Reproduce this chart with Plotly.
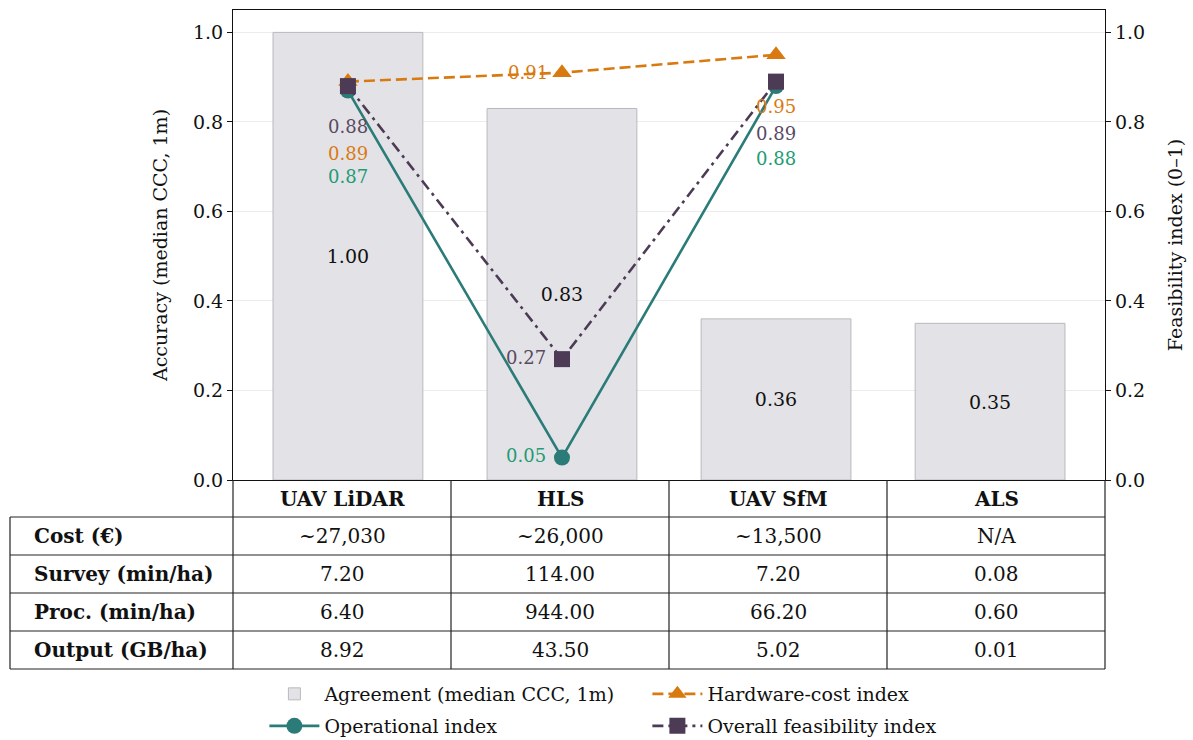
import plotly.graph_objects as go

# ---- data -------------------------------------------------------------
methods = ["UAV LiDAR", "HLS", "UAV SfM", "ALS"]
agreement = [1.00, 0.83, 0.36, 0.35]          # median CCC at 1 m
hardware_cost = [0.89, 0.91, 0.95, None]      # hardware-cost index
operational = [0.87, 0.05, 0.88, None]        # operational index
overall = [0.88, 0.27, 0.89, None]            # overall feasibility index

row_labels = ["Cost (€)", "Survey (min/ha)", "Proc. (min/ha)", "Output (GB/ha)"]
cost = ["~27,030", "~26,000", "~13,500", "N/A"]
survey = [7.20, 114.00, 7.20, 0.08]
proc = [6.40, 944.00, 66.20, 0.60]
output = [8.92, 43.50, 5.02, 0.01]

# ---- style ------------------------------------------------------------
FONT = "DejaVu Serif"
C_BAR = "#e3e3e7"
C_BAR_EDGE = "#b9b9bd"
C_OPER = "#2b7c78"
C_OPER_TXT = "#239b74"
C_HW = "#d97a10"
C_ALL = "#4d3b56"
C_ALL_TXT = "#5a4a62"

x = list(range(len(methods)))

fig = go.Figure()

# bars and the first legend row
fig.add_trace(go.Bar(
    x=x, y=agreement, width=0.70,
    marker=dict(color=C_BAR, line=dict(color=C_BAR_EDGE, width=1)),
    text=[f"{v:.2f}" for v in agreement],
    textposition="inside", insidetextanchor="middle",
    textfont=dict(family=FONT, size=19, color="#111111"),
    name="Agreement (median CCC, 1m)", yaxis="y", legend="legend",
))

fig.add_trace(go.Scatter(
    x=x, y=hardware_cost, mode="lines+markers", yaxis="y2",
    line=dict(color=C_HW, width=2.6, dash="11px,5px"),
    marker=dict(symbol="triangle-up", size=17, color=C_HW),
    name="Hardware-cost index", legend="legend",
))
fig.add_trace(go.Scatter(
    x=x, y=operational, mode="lines+markers", yaxis="y2",
    line=dict(color=C_OPER, width=2.6),
    marker=dict(symbol="circle", size=16, color=C_OPER),
    name="Operational index", legend="legend2",
))
fig.add_trace(go.Scatter(
    x=x, y=overall, mode="lines+markers", yaxis="y2",
    line=dict(color=C_ALL, width=2.6, dash="11px,5px,3px,5px"),
    marker=dict(symbol="square", size=16, color=C_ALL),
    name="Overall feasibility index", legend="legend2",
))

# value labels next to the index markers: (xshift, yshift, xanchor) per method
label_specs = [
    (hardware_cost, C_HW, [(0, -72, "center"), (-12, 0, "right"), (0, -52, "center")]),
    (overall, C_ALL_TXT, [(0, -40, "center"), (-14, 2, "right"), (0, -52, "center")]),
    (operational, C_OPER_TXT, [(0, -86, "center"), (-14, 2, "right"), (0, -72, "center")]),
]
annotations = []
for series, color, offs in label_specs:
    for i, v in enumerate(series):
        if v is None:
            continue
        dx, dy, anchor = offs[i]
        annotations.append(dict(
            x=i, y=v, xref="x", yref="y2", text=f"{v:.2f}", showarrow=False,
            xanchor=anchor, yanchor="middle", xshift=dx, yshift=dy,
            font=dict(family=FONT, size=18, color=color),
        ))

# ---- table beneath the plot (paper coordinates) -----------------------
PLOT_H = 740 - 10 - 260
PLOT_W = 1193 - 233 - 88
row_px = [0, 37, 75, 113, 151, 189]
row_y = [-p / PLOT_H for p in row_px]
col_x = [0, 0.25, 0.5, 0.75, 1.0]
left_x = -223 / PLOT_W

shapes = []
line_style = dict(color="#222222", width=1.2)
for yy in row_y[1:]:
    shapes.append(dict(type="line", xref="paper", yref="paper",
                       x0=left_x, x1=1.0, y0=yy, y1=yy, line=line_style))
for cx in col_x:
    shapes.append(dict(type="line", xref="paper", yref="paper",
                       x0=cx, x1=cx, y0=row_y[0], y1=row_y[-1], line=line_style))
shapes.append(dict(type="line", xref="paper", yref="paper",
                   x0=left_x, x1=left_x, y0=row_y[1], y1=row_y[-1], line=line_style))


def cell_mid(r):
    return (row_y[r] + row_y[r + 1]) / 2


TABLE_FONT = dict(family=FONT, size=20, color="#111111")
for i, m in enumerate(methods):
    annotations.append(dict(
        x=(col_x[i] + col_x[i + 1]) / 2, y=cell_mid(0), xref="paper", yref="paper",
        text=f"<b>{m}</b>", showarrow=False, xanchor="center", yanchor="middle",
        font=TABLE_FONT,
    ))

table_rows = [
    cost,
    [f"{v:.2f}" for v in survey],
    [f"{v:.2f}" for v in proc],
    [f"{v:.2f}" for v in output],
]
for r, (lab, vals) in enumerate(zip(row_labels, table_rows), start=1):
    annotations.append(dict(
        x=-201 / PLOT_W, y=cell_mid(r), xref="paper", yref="paper",
        text=f"<b>{lab}</b>", showarrow=False, xanchor="left", yanchor="middle",
        font=TABLE_FONT,
    ))
    for i, v in enumerate(vals):
        annotations.append(dict(
            x=(col_x[i] + col_x[i + 1]) / 2, y=cell_mid(r), xref="paper", yref="paper",
            text=v, showarrow=False, xanchor="center", yanchor="middle",
            font=TABLE_FONT,
        ))

axis_font = dict(family=FONT, size=19, color="#111111")
legend_common = dict(orientation="h", x=0.036, xanchor="left", yanchor="top",
                     entrywidth=318, entrywidthmode="pixels", itemwidth=50,
                     font=dict(family=FONT, size=19, color="#111111"),
                     bgcolor="rgba(0,0,0,0)")
fig.update_layout(
    width=1193, height=740,
    margin=dict(l=233, r=88, t=10, b=260, autoexpand=False),
    paper_bgcolor="white", plot_bgcolor="white",
    font=dict(family=FONT, size=18, color="#111111"),
    bargap=0.3,
    xaxis=dict(range=[-0.537, 3.537], showticklabels=False, ticks="",
               showgrid=False, zeroline=False, showline=True,
               linecolor="#111111", linewidth=1.2, mirror=True),
    yaxis=dict(range=[0, 1.05], tickvals=[0, 0.2, 0.4, 0.6, 0.8, 1.0],
               tickformat=".1f", ticks="outside", ticklen=5, tickcolor="#111111",
               tickfont=axis_font, showgrid=True, gridcolor="#ececec",
               zeroline=False, showline=True, linecolor="#111111", linewidth=1.2,
               title=dict(text="Accuracy (median CCC, 1m)", font=dict(family=FONT, size=19),
                          standoff=20)),
    yaxis2=dict(range=[0, 1.05], tickvals=[0, 0.2, 0.4, 0.6, 0.8, 1.0],
                tickformat=".1f", ticks="outside", ticklen=5, tickcolor="#111111",
                tickfont=axis_font, overlaying="y", side="right", showgrid=False,
                zeroline=False, showline=True, linecolor="#111111", linewidth=1.2,
                title=dict(text="Feasibility index (0–1)", font=dict(family=FONT, size=19),
                           standoff=24)),
    legend=dict(y=-195 / PLOT_H, **legend_common),
    legend2=dict(y=-227 / PLOT_H, **legend_common),
    shapes=shapes,
    annotations=annotations,
)

fig.write_html("out.html")
